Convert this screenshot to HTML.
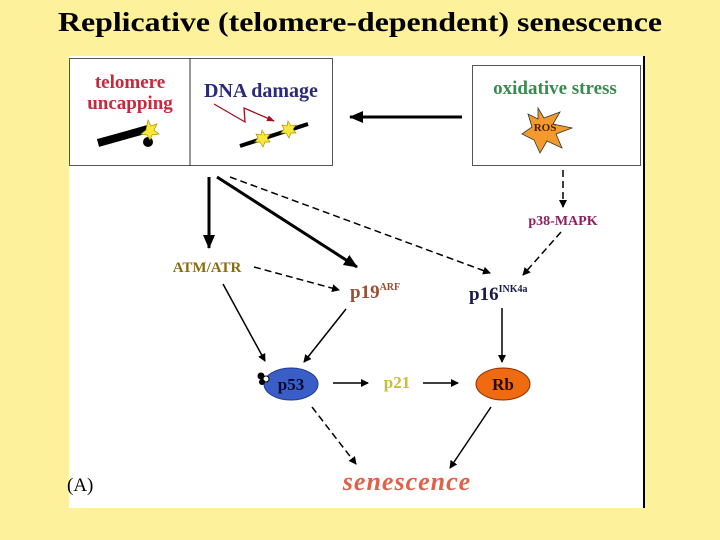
<!DOCTYPE html>
<html><head><style>
html,body{margin:0;padding:0;background:#fdf29b;}
body{width:720px;height:540px;position:relative;overflow:hidden;}
</style></head><body>
<svg width="720" height="540" xmlns="http://www.w3.org/2000/svg" style="position:absolute;left:0;top:0">
<defs>
<marker id="a" markerWidth="8" markerHeight="8" refX="7" refY="4" orient="auto" markerUnits="userSpaceOnUse"><path d="M0,0 L8,4 L0,8 Z" fill="#000"/></marker>
<marker id="b" markerWidth="14" markerHeight="12" refX="13" refY="6" orient="auto" markerUnits="userSpaceOnUse"><path d="M0,0 L14,6 L0,12 Z" fill="#000"/></marker>
<marker id="r" markerWidth="8" markerHeight="8" refX="7" refY="4" orient="auto" markerUnits="userSpaceOnUse"><path d="M0,1 L8,4 L0,7 Z" fill="#a01020"/></marker>
</defs>
<text x="58" y="31" font-family="Liberation Serif" font-weight="bold" font-size="27" fill="#000" textLength="604" lengthAdjust="spacingAndGlyphs">Replicative (telomere-dependent) senescence</text>
<rect x="69" y="56" width="575" height="452" fill="#fff"/>
<line x1="644" y1="56" x2="644" y2="508" stroke="#000" stroke-width="2"/>
<rect x="69.5" y="58.5" width="263" height="107" fill="#fff" stroke="#555"/>
<line x1="190" y1="58" x2="190" y2="166" stroke="#333"/>
<rect x="472.5" y="65.5" width="168" height="100" fill="#fff" stroke="#555"/>
<g font-family="Liberation Serif" font-weight="bold">
<text x="130" y="88" text-anchor="middle" font-size="19" fill="#c8283c">telomere</text>
<text x="130" y="109" text-anchor="middle" font-size="19" fill="#c8283c">uncapping</text>
<text x="261" y="97" text-anchor="middle" font-size="20" fill="#2a2a7a">DNA damage</text>
<text x="555" y="94" text-anchor="middle" font-size="19" fill="#3a8a50">oxidative stress</text>
</g>
<line x1="98" y1="143" x2="148" y2="129" stroke="#000" stroke-width="8"/>
<circle cx="148" cy="142" r="5" fill="#000"/>
<polygon points="148,120 151,126 157,124 154,130 159,134 152,135 150,140 147,135 141,134 146,130" fill="#f8e838" stroke="#b09000" stroke-width="0.7"/>
<line x1="240" y1="146" x2="308" y2="124" stroke="#000" stroke-width="4"/>
<polygon points="262,130 265,135 270,134 267,138 270,142 265,142 263,147 260,142 255,142 258,138 256,134 261,135" fill="#f8e838" stroke="#b09000" stroke-width="0.7"/>
<polygon points="288,121 291,126 296,125 293,129 296,133 291,133 289,138 286,133 281,133 284,129 282,125 287,126" fill="#f8e838" stroke="#b09000" stroke-width="0.7"/>
<polyline points="214,104 245,122 244,108 274,121" fill="none" stroke="#a01020" stroke-width="1.3" marker-end="url(#r)"/>
<polygon points="538,108 544,118 560,112 553,124 572,128 556,134 562,148 547,141 540,153 534,140 522,134 532,127 528,114 538,119" fill="#f39a2c" stroke="#333" stroke-width="0.8"/>
<text x="545" y="131" text-anchor="middle" font-family="Liberation Serif" font-weight="bold" font-size="11" fill="#4a2000">ROS</text>
<line x1="462" y1="117" x2="350" y2="117" stroke="#000" stroke-width="3" marker-end="url(#b)"/>
<line x1="209" y1="177" x2="209" y2="248" stroke="#000" stroke-width="3" marker-end="url(#b)"/>
<line x1="217" y1="177" x2="357" y2="267" stroke="#000" stroke-width="3" marker-end="url(#b)"/>
<line x1="230" y1="177" x2="490" y2="273" stroke="#000" stroke-width="1.5" stroke-dasharray="7,4" marker-end="url(#a)"/>
<line x1="563" y1="170" x2="563" y2="207" stroke="#000" stroke-width="1.5" stroke-dasharray="7,4" marker-end="url(#a)"/>
<line x1="561" y1="232" x2="523" y2="275" stroke="#000" stroke-width="1.5" stroke-dasharray="7,4" marker-end="url(#a)"/>
<line x1="254" y1="267" x2="339" y2="290" stroke="#000" stroke-width="1.5" stroke-dasharray="7,4" marker-end="url(#a)"/>
<line x1="223" y1="284" x2="265" y2="361" stroke="#000" stroke-width="1.5" marker-end="url(#a)"/>
<line x1="346" y1="309" x2="304" y2="362" stroke="#000" stroke-width="1.5" marker-end="url(#a)"/>
<line x1="502" y1="308" x2="502" y2="362" stroke="#000" stroke-width="1.5" marker-end="url(#a)"/>
<line x1="333" y1="383" x2="368" y2="383" stroke="#000" stroke-width="1.5" marker-end="url(#a)"/>
<line x1="423" y1="383" x2="458" y2="383" stroke="#000" stroke-width="1.5" marker-end="url(#a)"/>
<line x1="312" y1="407" x2="356" y2="464" stroke="#000" stroke-width="1.5" stroke-dasharray="7,4" marker-end="url(#a)"/>
<line x1="491" y1="407" x2="450" y2="468" stroke="#000" stroke-width="1.5" marker-end="url(#a)"/>
<g font-family="Liberation Serif" font-weight="bold">
<text x="207" y="272" text-anchor="middle" font-size="15" fill="#8a6a10">ATM/ATR</text>
<text x="350" y="298" font-size="19" fill="#9a5030">p19<tspan font-size="10" dy="-8">ARF</tspan></text>
<text x="469" y="300" font-size="19" fill="#1a1a4a">p16<tspan font-size="10" dy="-8">INK4a</tspan></text>
<text x="563" y="225" text-anchor="middle" font-size="14" fill="#8a2060">p38-MAPK</text>
<text x="397" y="388" text-anchor="middle" font-size="17" fill="#c8c030">p21</text>
</g>
<ellipse cx="291" cy="384" rx="27" ry="16" fill="#3a5ec8" stroke="#223a88"/>
<circle cx="261" cy="376" r="3.5" fill="#000"/><circle cx="266" cy="379" r="3" fill="#fff" stroke="#000"/><circle cx="262" cy="382" r="3" fill="#000"/>
<text x="291" y="390" text-anchor="middle" font-family="Liberation Serif" font-weight="bold" font-size="17" fill="#0a0a30">p53</text>
<ellipse cx="503" cy="384" rx="27" ry="16" fill="#f06a10" stroke="#8a3000"/>
<text x="503" y="390" text-anchor="middle" font-family="Liberation Serif" font-weight="bold" font-size="17" fill="#2a0a00">Rb</text>
<text x="407" y="490" text-anchor="middle" font-family="Liberation Serif" font-weight="bold" font-style="italic" font-size="26" fill="#e0604a" letter-spacing="1">senescence</text>
<text x="67" y="491" font-family="Liberation Serif" font-size="19" fill="#000">(A)</text>
</svg>
</body></html>
